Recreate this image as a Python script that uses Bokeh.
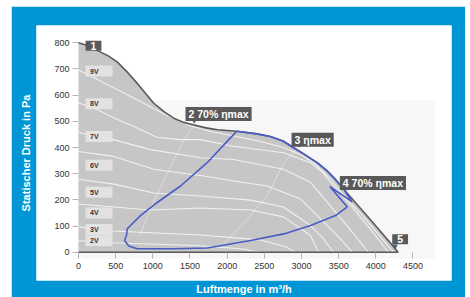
from bokeh.plotting import figure
from bokeh.models import Range1d, FixedTicker, LinearAxis, ColumnDataSource
from bokeh.core.properties import value
from bokeh.embed import file_html
from bokeh.resources import INLINE

# ---------------- data ----------------
x_ticks = [0, 500, 1000, 1500, 2000, 2500, 3000, 3500, 4000, 4500]
y_ticks = [0, 100, 200, 300, 400, 500, 600, 700, 800]

# maximum fan curve (outline of the grey operating field)
fan_x = [0, 120, 250, 400, 520, 650, 790, 900, 1010, 1150, 1280, 1400, 1500, 1700, 1870, 2130,
         2400, 2580, 2750, 2890, 3050, 3210, 3330, 3430, 3660, 3930, 4200, 4300]
fan_y = [800, 790, 771, 750, 727, 690, 645, 607, 570, 537, 512, 497, 490, 476, 468, 462,
         452, 442, 425, 400, 372, 342, 315, 286, 211, 123, 34, 0]

# control-voltage curves
v9_x = [0, 184, 498, 834, 1170, 1462, 1776, 2126, 2449, 2758, 2987, 3189, 3390, 3592, 3861, 4197, 4250]
v9_y = [696, 670, 624, 576, 525, 487, 461, 442, 423, 400, 373, 336, 279, 210, 127, 13, 0]
v8_x = [0, 202, 471, 740, 1059, 1372, 1641, 2085, 2758, 3121, 3283, 3431, 3659, 3901, 4170]
v8_y = [570, 552, 514, 481, 438, 430, 430, 405, 380, 342, 305, 253, 180, 97, 0]
v7_x = [0, 471, 969, 1641, 2085, 2758, 3121, 3346, 3592, 3901]
v7_y = [457, 430, 392, 361, 354, 317, 267, 191, 108, 0]
v6_x = [0, 475, 1013, 1686, 2085, 2539, 2987, 3211, 3458, 3686]
v6_y = [385, 366, 317, 291, 272, 253, 203, 140, 70, 0]
v5_x = [0, 475, 1013, 1686, 2314, 2758, 3121, 3296, 3431]
v5_y = [279, 260, 226, 214, 199, 173, 102, 51, 0]
v4_x = [0, 471, 969, 1641, 2314, 2758, 3121, 3229]
v4_y = [184, 173, 161, 169, 161, 135, 64, 0]
v3_x = [0, 457, 1641, 2449, 2785, 2919]
v3_y = [97, 81, 66, 47, 21, 0]
v2_x = [0, 457, 1641, 2180, 2449]
v2_y = [44, 36, 25, 13, 0]

# faint system lines in the background of the field
s1_x = [820, 1013, 1372, 1560]
s1_y = [60, 196, 405, 488]
s2_x = [1900, 2200, 2539, 2762, 2930]
s2_y = [15, 105, 215, 341, 392]

volt_labels = ["9V", "8V", "7V", "6V", "5V", "4V", "3V", "2V"]
volt_label_y = [692, 567, 442, 332, 229, 150, 87, 44]

# efficiency (70 % eta max) envelope
eff_x = [2130, 2400, 2580, 2750, 2890, 3050, 3210, 3330, 3430, 3560, 3682, 3381, 3615, 3458, 3121,
         2762, 2314, 1731, 1282, 790, 677, 619, 646, 655, 700, 834, 1059, 1372, 1731, 2022, 2130]
eff_y = [462, 452, 442, 425, 400, 372, 342, 315, 286, 244, 192, 251, 173, 140, 102,
         70, 45, 16, 13, 13, 24, 45, 64, 89, 102, 140, 190, 253, 342, 430, 462]

# numbered operating points
op_x = [1507, 2920, 3570]
op_y = [490, 399, 234]
op_labels = ["2 70% \u03b7max", "3 \u03b7max", "4 70% \u03b7max"]
end_x = [0, 4300]
end_y = [800, 0]
end_labels = ["1", "5"]

# ---------------- styles ----------------
BLUE = "#0096d6"
GREY = "#c6c6c6"
DARK = "#595959"
EFF = "#4a5cc6"
FONT = "Liberation Sans"
op_dx = [-5, -4, -4]
op_dy = [-3, -1, -1]
end_dx = [15, 2]
end_dy = [3, -13]
ptr_x = [1507, 2920, 3570, 4300]
ptr_y = [490, 399, 234, 0]
ptr_dx = [1, 1, 1, -6]
ptr_dy = [1, 1, 1, -1]
VLBL_X = 276

p = figure(width=454, height=291, output_backend="svg", toolbar_location=None,
           margin=(6, 0, 0, 11),
           x_range=Range1d(-565, 5018), y_range=Range1d(-108, 866),
           x_axis_location=None, y_axis_location=None,
           min_border_left=25, min_border_right=14, min_border_top=19, min_border_bottom=15,
           border_fill_color=BLUE, background_fill_color="white", outline_line_color=None)
p.grid.visible = False

# faint backdrop of the chart image
p.quad(left=[0], right=[4800], bottom=[-25], top=[580], fill_color="#f7f7f7", line_color=None)

# tick axes drawn inside the white panel
xa = LinearAxis(fixed_location=0, ticker=FixedTicker(ticks=x_ticks),
                major_tick_out=6, major_tick_in=0, minor_tick_line_color=None,
                major_tick_line_color="#b5b5b5", axis_line_color=None,
                major_label_text_font=FONT, major_label_text_font_size="9px",
                major_label_text_color="#333333", major_label_standoff=5)
ya = LinearAxis(fixed_location=0, ticker=FixedTicker(ticks=y_ticks),
                major_tick_out=6, major_tick_in=0, minor_tick_line_color=None,
                major_tick_line_color="#b5b5b5", axis_line_color=None,
                major_label_text_font=FONT, major_label_text_font_size="9px",
                major_label_text_color="#333333", major_label_standoff=3)
p.add_layout(xa, "below")
p.add_layout(ya, "left")

# axis titles on the blue frame
xl = LinearAxis(axis_label="Luftmenge in m\u00b3/h", ticker=FixedTicker(ticks=[]),
                major_tick_line_color=None, minor_tick_line_color=None, axis_line_color=None,
                major_label_text_font_size="0px", axis_label_standoff=2,
                axis_label_text_color="white", axis_label_text_font_style="bold",
                axis_label_text_font_size="11px", axis_label_text_font=FONT)
yl = LinearAxis(axis_label="Statischer Druck in Pa", ticker=FixedTicker(ticks=[]),
                major_tick_line_color=None, minor_tick_line_color=None, axis_line_color=None,
                major_label_text_font_size="0px", axis_label_standoff=5,
                axis_label_text_color="white", axis_label_text_font_style="bold",
                axis_label_text_font_size="11px", axis_label_text_font=FONT)
p.add_layout(xl, "below")
p.add_layout(yl, "left")

# grey field
p.patch(fan_x + [0], fan_y + [0], fill_color=GREY, line_color=None)

# faint system lines
for sx, sy in [(s1_x, s1_y), (s2_x, s2_y)]:
    p.line(sx, sy, line_color="white", line_alpha=0.4, line_width=1)

# voltage curves
for vx, vy in [(v9_x, v9_y), (v8_x, v8_y), (v7_x, v7_y), (v6_x, v6_y),
               (v5_x, v5_y), (v4_x, v4_y), (v3_x, v3_y), (v2_x, v2_y)]:
    p.line(vx, vy, line_color="white", line_alpha=0.75, line_width=1.1)

# outline
p.line(fan_x + [0], fan_y + [0], line_color=DARK, line_width=1.6)

# efficiency envelope
p.line(eff_x, eff_y, line_color=EFF, line_width=1.6)

# voltage labels
vsrc = ColumnDataSource(dict(x=[VLBL_X] * len(volt_labels), y=volt_label_y, t=volt_labels))
p.rect("x", "y", width=27, height=11, width_units="screen", height_units="screen",
       source=vsrc, fill_color="#e4e4e4", fill_alpha=0.9, line_color=None)
p.text("x", "y", text="t", source=vsrc, x_offset=-9, text_align="left", text_baseline="middle",
       text_font=value(FONT), text_font_size="7px", text_font_style="bold", text_color="#333333")

# label pointers
psrc = ColumnDataSource(dict(x=ptr_x, y=ptr_y, dx=ptr_dx, dy=ptr_dy))
p.text("x", "y", text=value("\u25bc"), source=psrc, x_offset="dx", y_offset="dy",
       text_align="left", text_baseline="bottom", text_font=value("DejaVu Sans"),
       text_font_size="7px", text_color=DARK)

# operating point labels
osrc = ColumnDataSource(dict(x=op_x, y=op_y, t=op_labels, dx=op_dx, dy=op_dy))
p.text("x", "y", text="t", source=osrc, x_offset="dx", y_offset="dy", text_align="left",
       text_baseline="bottom", text_font=value(FONT), text_font_size="10.5px",
       text_font_style="bold", text_color="white",
       background_fill_color=DARK, padding=dict(left=3, right=3, top=1, bottom=1))
esrc = ColumnDataSource(dict(x=end_x, y=end_y, t=end_labels, dx=end_dx, dy=end_dy))
p.text("x", "y", text="t", source=esrc, x_offset="dx", y_offset="dy", text_align="center",
       text_baseline="middle", text_font=value(FONT), text_font_size="10.5px",
       text_font_style="bold", text_color="white",
       background_fill_color=DARK, padding=dict(left=5, right=5, top=1, bottom=1))

open("out.html", "w").write(file_html(p, INLINE))
